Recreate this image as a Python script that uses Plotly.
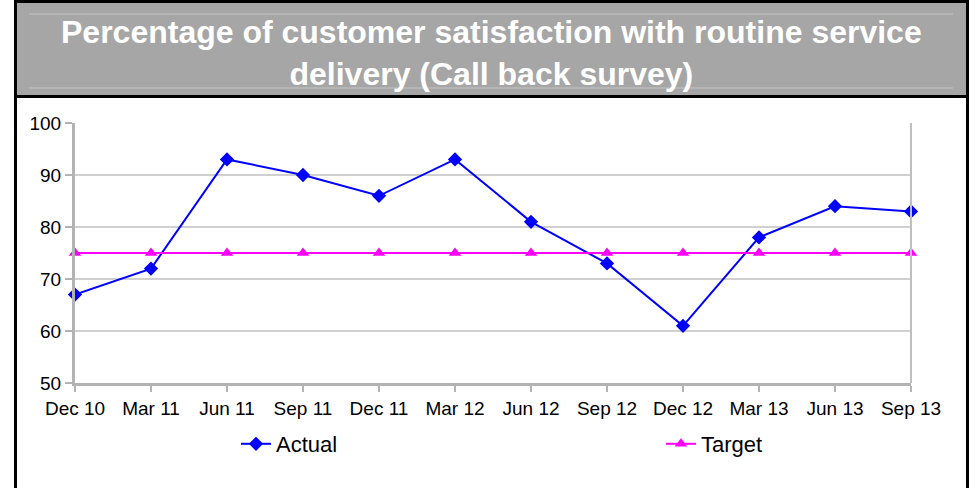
import plotly.graph_objects as go

quarters = ["Dec 10", "Mar 11", "Jun 11", "Sep 11", "Dec 11", "Mar 12",
            "Jun 12", "Sep 12", "Dec 12", "Mar 13", "Jun 13", "Sep 13"]
actual = [67, 72, 93, 90, 86, 93, 81, 73, 61, 78, 84, 83]
target = [75, 75, 75, 75, 75, 75, 75, 75, 75, 75, 75, 75]

title_text = ("Percentage of customer satisfaction with routine service"
              "<br>delivery (Call back survey)")

FONT = "Liberation Sans, Arial, sans-serif"
W, H = 975, 488
L, R, T, B = 75, 64, 123, 105


def px_x(p):
    # pixel -> paper x
    return (p - L) / (W - L - R)


def px_y(p):
    # pixel -> paper y
    return (H - B - p) / (H - T - B)


fig = go.Figure()
fig.add_trace(go.Scatter(
    x=quarters, y=actual, name="Actual", mode="lines+markers",
    line=dict(color="#0000FF", width=2),
    marker=dict(symbol="diamond", size=11, color="#0000FF"),
    cliponaxis=False, legend="legend",
))
fig.add_trace(go.Scatter(
    x=quarters, y=target, name="Target", mode="lines+markers",
    line=dict(color="#FF00FF", width=2),
    marker=dict(symbol="triangle-up", size=11, color="#FF00FF"),
    cliponaxis=False, legend="legend2",
))

shapes = [
    # grey title band
    dict(type="rect", xref="paper", yref="paper",
         x0=px_x(16), x1=px_x(968), y0=px_y(3), y1=px_y(95),
         fillcolor="#A6A6A6", line=dict(width=0), layer="below"),
    dict(type="line", xref="paper", yref="paper",
         x0=px_x(29), x1=px_x(953), y0=px_y(14), y1=px_y(14),
         line=dict(color="#C4C4C4", width=1)),
    dict(type="line", xref="paper", yref="paper",
         x0=px_x(29), x1=px_x(953), y0=px_y(88), y1=px_y(88),
         line=dict(color="#C4C4C4", width=1)),
    # black frame
    dict(type="line", xref="paper", yref="paper",
         x0=px_x(15.5), x1=px_x(15.5), y0=px_y(0), y1=px_y(H),
         line=dict(color="black", width=3)),
    dict(type="line", xref="paper", yref="paper",
         x0=px_x(967.5), x1=px_x(967.5), y0=px_y(0), y1=px_y(H),
         line=dict(color="black", width=3)),
    dict(type="line", xref="paper", yref="paper",
         x0=px_x(14), x1=px_x(969), y0=px_y(1.5), y1=px_y(1.5),
         line=dict(color="black", width=3)),
    dict(type="line", xref="paper", yref="paper",
         x0=px_x(14), x1=px_x(969), y0=px_y(96.5), y1=px_y(96.5),
         line=dict(color="black", width=3)),
    # right edge of plot area
    dict(type="line", xref="paper", yref="paper",
         x0=1, x1=1, y0=0, y1=1,
         line=dict(color="#BFBFBF", width=2)),
]

legend_common = dict(orientation="h", xanchor="left", yanchor="middle",
                     y=px_y(444), font=dict(size=22), itemwidth=30,
                     bgcolor="rgba(0,0,0,0)")

fig.add_annotation(
    text=title_text, xref="paper", yref="paper",
    x=px_x(491), y=px_y(53), xanchor="center", yanchor="middle",
    showarrow=False, align="center",
    font=dict(family=FONT, size=32, color="white", weight="bold"),
)

fig.update_layout(
    width=W, height=H,
    margin=dict(l=L, r=R, t=T, b=B, autoexpand=False),
    paper_bgcolor="white", plot_bgcolor="white",
    font=dict(family=FONT, color="black", size=19),
    shapes=shapes,
    showlegend=True,
    legend=dict(x=px_x(236), **legend_common),
    legend2=dict(x=px_x(661), **legend_common),
    xaxis=dict(type="category", range=[0, len(quarters) - 1],
               showgrid=False, showline=True, linecolor="#B3B3B3", linewidth=3,
               ticks="outside", ticklen=6, tickcolor="#B3B3B3", tickwidth=2,
               zeroline=False, tickfont=dict(size=19)),
    yaxis=dict(range=[50, 100], dtick=10,
               showgrid=True, gridcolor="#D0D0D0", gridwidth=2,
               showline=True, linecolor="#B3B3B3", linewidth=3,
               ticks="outside", ticklen=7, tickcolor="#B3B3B3", tickwidth=2,
               zeroline=False, tickfont=dict(size=19)),
)

# drop the default 8px body margin so the figure sits at the window corner
fig.write_html("out.html", config={"displayModeBar": False},
               post_script="document.body.style.margin='0';")
